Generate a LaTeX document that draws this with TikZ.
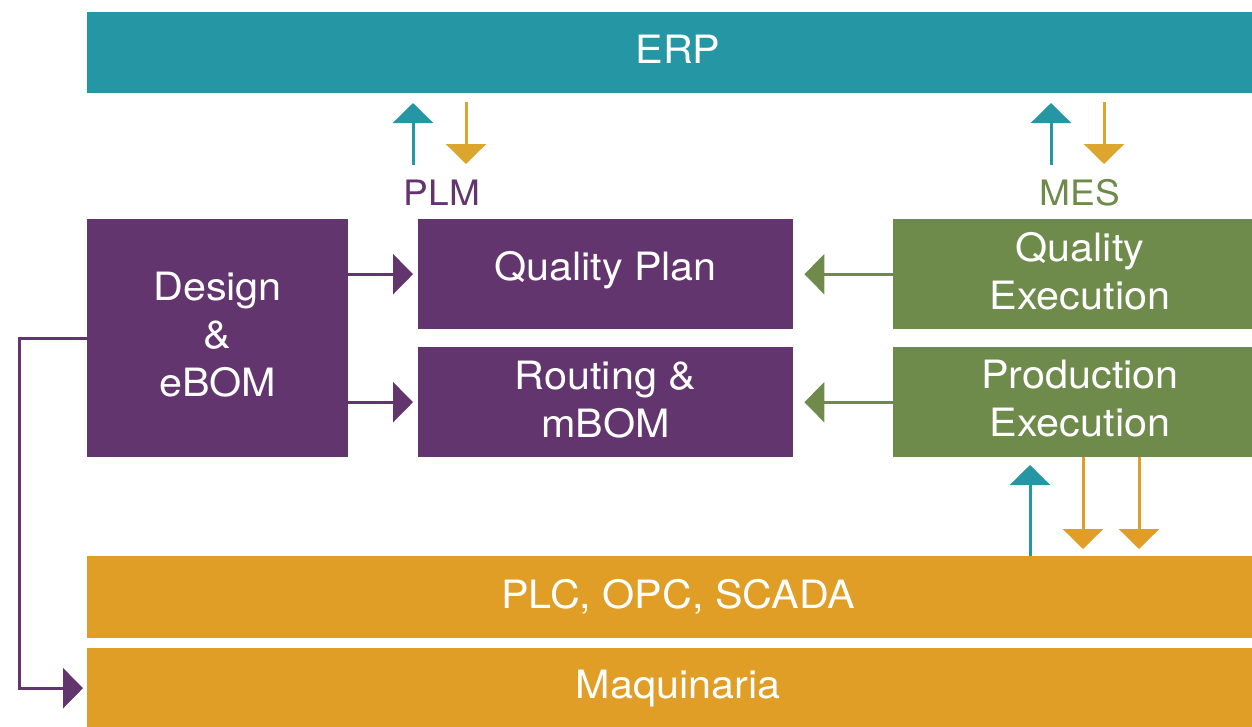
\documentclass[tikz,border=0pt]{standalone}
\usepackage{fontspec}
\setmainfont[FakeStretch=1.06]{TeX Gyre Heros}
\usetikzlibrary{arrows.meta}
\definecolor{erpteal}{HTML}{2596A3}
\definecolor{plmpurple}{HTML}{62356E}
\definecolor{mesgreen}{HTML}{6F8B4B}
\definecolor{plcorange}{HTML}{E09E27}
\definecolor{toporange}{HTML}{DCA52E}
\tikzset{
  box/.style={draw=none, inner sep=0pt, anchor=north west},
  btext/.style={text=white, align=center, inner sep=0pt, font=\fontsize{39}{48}\selectfont},
  lbl/.style={inner sep=0pt, font=\fontsize{35}{42}\selectfont},
  arr/.style={line width=3pt, -{Triangle[width=40pt,length=20pt]}},
}
\begin{document}
\begin{tikzpicture}[x=1pt,y=-1pt]
\useasboundingbox (0,0) rectangle (1252,726);
% boxes
\node[box, fill=erpteal, minimum width=1182pt, minimum height=81pt] (erp) at (87,12) {};
\node[btext] (erpt) at (678,49) {ERP};
\node[box, fill=plmpurple, minimum width=261pt, minimum height=238pt] (design) at (87,219) {};
\node[btext] (designt) at (217.5,335) {Design\\\&\\eBOM};
\node[box, fill=plmpurple, minimum width=375pt, minimum height=110pt] (qp) at (418,219) {};
\node[btext] (qpt) at (605.5,270) {Quality Plan};
\node[box, fill=plmpurple, minimum width=375pt, minimum height=110pt] (rm) at (418,347) {};
\node[btext] (rmt) at (605.5,400) {Routing \&\\mBOM};
\node[box, fill=mesgreen, minimum width=374pt, minimum height=110pt] (qe) at (893,219) {};
\node[btext] (qet) at (1080,271) {Quality\\Execution};
\node[box, fill=mesgreen, minimum width=374pt, minimum height=110pt] (pe) at (893,347) {};
\node[btext] (pet) at (1080,399) {Production\\Execution};
\node[box, fill=plcorange, minimum width=1182pt, minimum height=82pt] (plc) at (87,556) {};
\node[btext] (plct) at (678,597) {PLC, OPC, SCADA};
\node[box, fill=plcorange, minimum width=1182pt, minimum height=80pt] (maq) at (87,648) {};
\node[btext] (maqt) at (678,689) {Maquinaria};
% labels
\node[lbl, text=plmpurple] (plm) at (442,193) {PLM};
\node[lbl, text=mesgreen] (mes) at (1080,193) {MES};
% ERP arrows
\coordinate (a1s) at (413,165); \coordinate (a1e) at (413,103);
\coordinate (a2s) at (466,102); \coordinate (a2e) at (466,164);
\coordinate (a3s) at (1051,165); \coordinate (a3e) at (1051,103);
\coordinate (a4s) at (1104,102); \coordinate (a4e) at (1104,164);
\draw[arr, erpteal] (a1s) -- (a1e);
\draw[arr, toporange] (a2s) -- (a2e);
\draw[arr, erpteal] (a3s) -- (a3e);
\draw[arr, toporange] (a4s) -- (a4e);
% horizontal arrows
\draw[arr, plmpurple, shorten >=5pt] (design.east |- qp.west) -- (qp.west);
\draw[arr, plmpurple, shorten >=5pt] (design.east |- rm.west) -- (rm.west);
\draw[arr, mesgreen, shorten >=11pt] (qe.west) -- (qp.east);
\draw[arr, mesgreen, shorten >=11pt] (pe.west) -- (rm.east);
% bottom arrows
\coordinate (b1) at (1030,556); \coordinate (b1e) at (1030,465);
\draw[arr, erpteal] (b1) -- (b1e);
\coordinate (b2) at (1083,457); \coordinate (b2e) at (1083,549);
\coordinate (b3) at (1139,457); \coordinate (b3e) at (1139,549);
\draw[arr, plcorange] (b2) -- (b2e);
\draw[arr, plcorange] (b3) -- (b3e);
% left connector
\coordinate (lc) at (19,338);
\draw[arr, plmpurple, shorten >=4pt] (design.west |- lc) -- (lc) -- (lc |- maq.west) -- (maq.west);
\end{tikzpicture}
\end{document}
